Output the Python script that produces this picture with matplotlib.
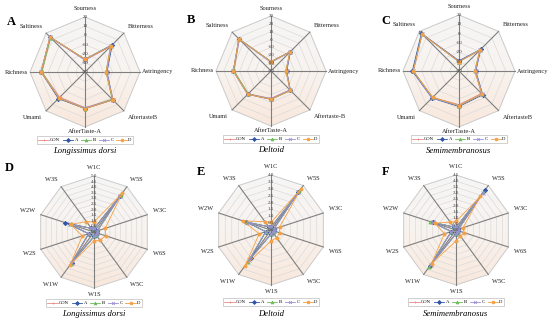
import numpy as np
import matplotlib.pyplot as plt
from matplotlib.colors import LinearSegmentedColormap

plt.rcParams['font.family'] = ['Liberation Serif', 'DejaVu Serif']

series = ['CON', 'A', 'B', 'C', 'D']
colors = ['#E98A86', '#2F55A4', '#6DBB5A', '#9B8FD3', '#F5A043']
markers = ['+', 'D', '^', 'x', 'o']

# e-tongue attributes (clockwise from top)
taste_A = ['Sourness', 'Bitterness', 'Astringency', 'AftertasteB', 'AfterTaste-A', 'Umami', 'Richness', 'Saltiness']
taste_B = ['Sourness', 'Bitterness', 'Astringency', 'Aftertaste-B', 'AfterTaste-A', 'Umami', 'Richness', 'Saltiness']
taste_C = ['Sourness', 'Bitterness', 'Astringency', 'AftertasteB', 'AfterTaste-A', 'Umami', 'Richness', 'Saltiness']
# e-nose sensors
sensors = ['W1C', 'W5S', 'W3C', 'W6S', 'W5C', 'W1S', 'W1W', 'W2S', 'W2W', 'W3S']

# Longissimus dorsi - taste
A_CON = [-27, -1, -17, 2, -1, -1, 7, 13]
A_A = [-26, 2, -16, 3, 0, 1, 8, 14]
A_B = [-26, 0, -17, 2, 0, 0, 7, 13]
A_C = [-27, 0, -16, 3, -1, 0, 8, 14]
A_D = [-26, 0, -17, 3, 0, 0, 8, 14]
# Deltoid - taste
B_CON = [-29, -6, -21, -6, -5, 1, 7, 17]
B_A = [-28, -5, -20, -5, -4, 2, 8, 18]
B_B = [-28, -6, -21, -5, -4, 1, 7, 18]
B_C = [-29, -6, -20, -6, -5, 2, 8, 17]
B_D = [-28, -6, -21, -5, -4, 2, 8, 18]
# Semimembranosus - taste
C_CON = [-30, -9, -23, -6, -4, 0, 9, 16]
C_A = [-29, -7, -22, -4, -2, 1, 10, 17]
C_B = [-30, -8, -23, -5, -3, 0, 9, 16]
C_C = [-30, -8, -22, -5, -3, 1, 9, 16]
C_D = [-30, -8, -23, -5, -3, 0, 9, 16]
# Longissimus dorsi - odour
D_CON = [0.3, 4.1, 0.3, 0.3, 0.3, 0.4, 3.5, 0.5, 2.2, 0.4]
D_A = [0.3, 4.0, 0.3, 0.3, 0.3, 0.4, 3.4, 0.5, 2.7, 0.4]
D_B = [0.3, 4.1, 0.3, 0.3, 0.3, 0.4, 3.5, 0.5, 2.3, 0.4]
D_C = [0.3, 4.0, 0.3, 0.3, 0.3, 0.4, 3.4, 0.5, 2.3, 0.4]
D_D = [0.9, 4.3, 1.05, 1.1, 0.9, 0.8, 3.6, 1.1, 2.2, 1.15]
# Deltoid - odour
E_CON = [0.2, 3.5, 0.2, 0.2, 0.2, 0.3, 2.8, 0.4, 1.8, 0.3]
E_A = [0.2, 3.4, 0.2, 0.2, 0.2, 0.3, 2.5, 0.4, 1.9, 0.3]
E_B = [0.2, 3.5, 0.2, 0.2, 0.2, 0.3, 2.9, 0.4, 1.8, 0.3]
E_C = [0.2, 3.4, 0.2, 0.2, 0.2, 0.3, 2.7, 0.4, 1.7, 0.3]
E_D = [0.55, 3.7, 0.65, 0.65, 0.7, 0.8, 3.2, 0.9, 2.15, 0.75]
# Semimembranosus - odour
F_CON = [0.2, 3.7, 0.2, 0.2, 0.2, 0.3, 3.6, 0.4, 2.1, 0.3]
F_A = [0.2, 4.0, 0.2, 0.2, 0.2, 0.3, 3.6, 0.4, 2.0, 0.3]
F_B = [0.2, 3.8, 0.2, 0.2, 0.2, 0.3, 3.7, 0.4, 2.2, 0.3]
F_C = [0.2, 3.7, 0.2, 0.2, 0.2, 0.3, 3.5, 0.4, 2.0, 0.3]
F_D = [0.7, 3.4, 0.6, 0.7, 0.6, 0.9, 3.4, 1.0, 1.8, 0.8]

W, H = 550, 320
fig = plt.figure(figsize=(5.5, 3.2), dpi=100)

grad = np.linspace(0, 1, 200).reshape(-1, 1)
bg_cmap = LinearSegmentedColormap.from_list('bg', ['#F9E8DC', '#F8F3EF', '#F6F6F6'])


def radar(cx, cy, R, labels, data, vmin, vmax, step, fmt, letter, title, lx, ly):
    half = 95
    ax = fig.add_axes([(cx - half) / W, (H - cy - half) / H, 2 * half / W, 2 * half / H])
    ax.set_xlim(-half / R, half / R)
    ax.set_ylim(-half / R, half / R)
    ax.axis('off')
    n = len(labels)
    th = 2 * np.pi * np.arange(n) / n
    sx, cy_ = np.sin(th), np.cos(th)
    # background
    px = np.append(sx, sx[0])
    py = np.append(cy_, cy_[0])
    poly, = ax.fill(px, py, color='none', lw=0)
    im = ax.imshow(grad, cmap=bg_cmap, extent=(-1, 1, -1, 1), origin='lower', aspect='auto', zorder=0)
    im.set_clip_path(poly)
    # rings
    levels = np.arange(vmin, vmax + step / 2, step)
    for lv in levels:
        r = (lv - vmin) / (vmax - vmin)
        ax.plot(px * r, py * r, color='#D9D9D9', lw=0.45, zorder=1)
    ax.plot(px, py, color='#CCCCCC', lw=0.6, zorder=1)
    for i in range(n):
        ax.plot([0, sx[i]], [0, cy_[i]], color='#7F7F7F', lw=0.8, zorder=2)
    # data
    handles = []
    for s, vals, c, m in zip(series, data, colors, markers):
        r = (np.array(vals) - vmin) / (vmax - vmin)
        xs = np.append(r * sx, r[0] * sx[0])
        ys = np.append(r * cy_, r[0] * cy_[0])
        h, = ax.plot(xs, ys, color=c, lw=0.6, marker=m, ms=2.2, mew=0.6, zorder=3)
        handles.append(h)
    # tick labels
    for lv in levels:
        r = (lv - vmin) / (vmax - vmin)
        ax.text(0, r, fmt % lv, ha='center', va='center', fontsize=3.6, color='#404040', zorder=4)
    # axis labels
    for i, lab in enumerate(labels):
        s, c = sx[i], cy_[i]
        ha = 'center' if abs(s) < 0.1 else ('left' if s > 0 else 'right')
        va = 'center' if abs(c) < 0.1 else ('bottom' if c > 0 else 'top')
        rr = 1.1
        if abs(s) < 0.1:
            rr = 1.1 if c > 0 else (1.03 if n == 8 else 1.08)
        elif abs(c) < 0.1:
            rr = 1.03
        ax.text(rr * s, rr * c, lab, ha=ha, va=va, fontsize=4.6, color='#222222')
    leg = ax.legend(handles, series, loc='center', bbox_to_anchor=(0, ly / R),
                    bbox_transform=ax.transData, ncol=5, fontsize=3.4, frameon=True,
                    handlelength=2.2, handletextpad=0.3, columnspacing=0.6,
                    borderpad=0.3, markerscale=0.9)
    leg.get_frame().set_linewidth(0.4)
    leg.get_frame().set_edgecolor('#999999')
    leg.get_frame().set_boxstyle('square', pad=0)
    ax.text(0, lx / R, title, ha='center', va='center', fontsize=6.2, style='italic')
    fig.text(letter[1] / W, 1 - letter[2] / H, letter[0], fontsize=9, fontweight='bold',
             ha='left', va='center')


radar(85, 72, 55, taste_A, [A_CON, A_A, A_B, A_C, A_D], -40, 20, 10, '%d',
      ('A', 7, 22), 'Longissimus dorsi', -79, -68)
radar(271, 71, 55, taste_B, [B_CON, B_A, B_B, B_C, B_D], -40, 30, 10, '%d',
      ('B', 187, 20), 'Deltoid', -79, -68)
radar(459, 71, 56, taste_C, [C_CON, C_A, C_B, C_C, C_D], -40, 20, 10, '%d',
      ('C', 381, 21), 'Semimembranosus', -80, -68)
radar(94, 232, 56, sensors, [D_CON, D_A, D_B, D_C, D_D], 0, 5.0, 0.5, '%.1f',
      ('D', 5, 168), 'Longissimus dorsi', -82, -71)
radar(271, 230, 55, sensors, [E_CON, E_A, E_B, E_C, E_D], 0, 4.0, 0.5, '%.1f',
      ('E', 197, 172), 'Deltoid', -84, -72)
radar(456, 230, 55, sensors, [F_CON, F_A, F_B, F_C, F_D], 0, 4.5, 0.5, '%.1f',
      ('F', 382, 172), 'Semimembranosus', -84, -72)

fig.savefig('out.png', dpi=100)
